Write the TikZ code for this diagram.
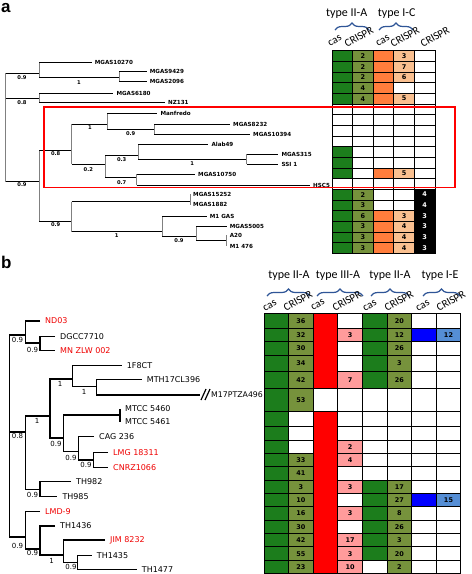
\documentclass[tikz,border=0pt]{standalone}
\usepackage{fontspec}
\setmainfont{Carlito}
\newfontfamily\dvf{DejaVu Sans}
\newfontfamily\lsf{Liberation Sans}
\usetikzlibrary{decorations.pathreplacing,calc}
\definecolor{cgreen}{RGB}{28,125,28}
\definecolor{colive}{RGB}{118,146,60}
\definecolor{corange}{RGB}{255,125,60}
\definecolor{cpeach}{RGB}{250,192,144}
\definecolor{cpink}{RGB}{255,155,155}
\definecolor{cblue}{RGB}{0,0,255}
\definecolor{clblue}{RGB}{85,142,213}
\definecolor{cbrace}{RGB}{47,85,151}
\definecolor{cred}{RGB}{255,0,0}
\definecolor{labred}{RGB}{240,0,0}
\tikzset{
 cellbase/.style={draw=black, line width=0.7pt, inner sep=0pt, font=\dvf\bfseries\fontsize{6.5}{7}\selectfont},
 cG/.style={fill=cgreen}, cW/.style={fill=white}, cO/.style={fill=corange},
 cR/.style={fill=cred}, cB/.style={fill=cblue}, cOl/.style={fill=colive},
 cPe/.style={fill=cpeach}, cBk/.style={fill=black,text=white},
 cPk/.style={fill=cpink}, cLb/.style={fill=clblue},
 branchA/.style={line width=0.9pt, draw=black},
 vA/.style={line width=0.9pt, draw=gray},
 leafA/.style={anchor=west, inner sep=0pt, font=\dvf\bfseries\fontsize{5.6}{6}\selectfont},
 supA/.style={inner sep=0pt, font=\dvf\bfseries\fontsize{5.2}{6}\selectfont},
 branchB/.style={line width=1.3pt, draw=black},
 leafB/.style={anchor=west, inner sep=0pt, font=\dvf\fontsize{8}{9}\selectfont},
 redleaf/.style={text=labred},
 blackleaf/.style={text=black},
 supB/.style={inner sep=0pt, font=\dvf\fontsize{7}{8}\selectfont},
 typelab/.style={inner sep=0pt, font=\fontsize{12}{13}\selectfont},
 collab/.style={anchor=base west, rotate=30, inner sep=0pt, font=\fontsize{11}{12}\selectfont},
 tbrace/.style={draw=cbrace, line width=1.2pt, decorate, decoration={brace, amplitude=7pt}},
 panlab/.style={anchor=base west, inner sep=0pt, font=\lsf\bfseries\fontsize{17}{17}\selectfont},
}
\newcommand{\ifemptyT}[3]{\if\relax\detokenize{#1}\relax #2\else #3\fi}
\newcommand{\acell}[4]{%
 \node[cellbase,#3,minimum width=20.6pt,minimum height=10.66pt] (a#1c#2) at ({332+(#2-0.5)*20.6},{50.7+(#1-0.5)*10.66}) {#4};}
\newcommand{\arow}[6]{%
 \acell{#1}{1}{#2}{}%
 \ifemptyT{#3}{\acell{#1}{2}{cW}{}}{\acell{#1}{2}{cOl}{#3}}%
 \acell{#1}{3}{#4}{}%
 \ifemptyT{#5}{\acell{#1}{4}{cW}{}}{\acell{#1}{4}{cPe}{#5}}%
 \ifemptyT{#6}{\acell{#1}{5}{cW}{}}{\acell{#1}{5}{cBk}{#6}}%
}
\def\bbA{{313.3,328.3,341.7,355,371,388.3,411.7,426,440,453.3,466.7,480,493.3,506.7,520,533.3,546.7,560.7,573.3}}
\newcommand{\bcell}[4]{%
 \node[cellbase,#3,minimum width=24.6pt,minimum height=\bh pt] (b#1c#2) at ({264+(#2-0.5)*24.6},{(\btop+\bbot)/2}) {#4};}
\newcommand{\brow}[9]{%
 \pgfmathsetmacro\btop{\bbA[#1-1]}\pgfmathsetmacro\bbot{\bbA[#1]}\pgfmathsetmacro\bh{\bbot-\btop}%
 \bcell{#1}{1}{#2}{}%
 \ifemptyT{#3}{\bcell{#1}{2}{cW}{}}{\bcell{#1}{2}{cOl}{#3}}%
 \bcell{#1}{3}{#4}{}%
 \ifemptyT{#5}{\bcell{#1}{4}{cW}{}}{\bcell{#1}{4}{cPk}{#5}}%
 \bcell{#1}{5}{#6}{}%
 \ifemptyT{#7}{\bcell{#1}{6}{cW}{}}{\bcell{#1}{6}{cOl}{#7}}%
 \bcell{#1}{7}{#8}{}%
 \ifemptyT{#9}{\bcell{#1}{8}{cW}{}}{\bcell{#1}{8}{cLb}{#9}}%
}
\newcommand{\leafA}[4]{\coordinate (#1) at (#2,#3); \node[leafA] (#1t) at (#2+3,#3) {#4};}
\newcommand{\leafB}[5]{\coordinate (#1) at (#2,#3); \node[leafB,#5] (#1t) at (#2+5,#3) {#4};}
\newcommand{\cladeA}[3]{%
 \draw[vA] (#1 |- #2) -- (#1 |- #3);
 \draw[branchA] (#1 |- #2) -- (#2);
 \draw[branchA] (#1 |- #3) -- (#3);}
\newcommand{\cladeB}[3]{%
 \draw[branchB] (#2) -- (#1 |- #2) -- (#1 |- #3) -- (#3);}
\begin{document}
\begin{tikzpicture}[x=1pt,y=-1pt]
\useasboundingbox (0,0) rectangle (472,574);
\fill[white] (0,0) rectangle (472,574);
\node[panlab] (pa) at (1,12) {a};
\node[panlab] (pb) at (1,268) {b};

% ---------- panel a table ----------
\arow{1}{cG}{2}{cO}{3}{}
\arow{2}{cG}{2}{cO}{7}{}
\arow{3}{cG}{2}{cO}{6}{}
\arow{4}{cG}{4}{cO}{}{}
\arow{5}{cG}{4}{cO}{5}{}
\arow{6}{cW}{}{cW}{}{}
\arow{7}{cW}{}{cW}{}{}
\arow{8}{cW}{}{cW}{}{}
\arow{9}{cW}{}{cW}{}{}
\arow{10}{cG}{}{cW}{}{}
\arow{11}{cG}{}{cW}{}{}
\arow{12}{cG}{}{cO}{5}{}
\arow{13}{cW}{}{cW}{}{}
\arow{14}{cG}{2}{cW}{}{4}
\arow{15}{cG}{3}{cW}{}{4}
\arow{16}{cG}{6}{cO}{3}{3}
\arow{17}{cG}{3}{cO}{4}{3}
\arow{18}{cG}{3}{cO}{4}{3}
\arow{19}{cG}{3}{cO}{4}{3}

\node[typelab] (ta1) at (346.7,14) {type II-A};
\node[typelab] (ta2) at (396.7,14) {type I-C};
\draw[tbrace] (335,30) -- (369,30);
\draw[tbrace] (379,30) -- (413,30);
\node[collab] (ha1) at (330,47) {cas};
\node[collab] (ha2) at (347,48) {CRISPR};
\node[collab] (ha3) at (378,47) {cas};
\node[collab] (ha4) at (393,48) {CRISPR};
\node[collab] (ha5) at (423,48) {CRISPR};

% ---------- panel a tree ----------
\coordinate (ra) at (5.7,127);
\coordinate (a1) at (39.3,73.3);
\coordinate (a1b) at (119.3,77.3);
\coordinate (a2) at (39.3,98.3);
\coordinate (a3) at (39.3,181.7);
\coordinate (a4) at (71.7,150);
\coordinate (a6) at (107.3,124);
\coordinate (a8) at (154.3,129.3);
\coordinate (a7) at (105.3,164.3);
\coordinate (a9) at (138.3,155);
\coordinate (a11) at (246.7,159.3);
\coordinate (a10) at (136.7,177.7);
\coordinate (a5) at (71.7,221.7);
\coordinate (a12) at (190,201.5);
\coordinate (a13) at (162.3,231.7);
\coordinate (a14) at (196,236.7);
\coordinate (a15) at (226.7,240.7);

\leafA{mgasA}{91.7}{62.3}{MGAS10270}
\leafA{mgasB}{146.7}{71.3}{MGAS9429}
\leafA{mgasC}{146.7}{81.5}{MGAS2096}
\leafA{mgasD}{113.3}{93}{MGAS6180}
\leafA{nzA}{165}{102.5}{NZ131}
\leafA{manf}{157.3}{113.5}{Manfredo}
\leafA{mgasE}{230}{124.3}{MGAS8232}
\leafA{mgasF}{250}{134.3}{MGAS10394}
\leafA{alab}{208.3}{144.3}{Alab49}
\leafA{mgasG}{278.3}{154}{MGAS315}
\leafA{ssi}{278.3}{164}{SSI 1}
\leafA{mgasH}{195}{174.3}{MGAS10750}
\leafA{hsc}{310}{185}{HSC5}
\leafA{mgasI}{190}{194.3}{MGAS15252}
\leafA{mgasJ}{190}{204.7}{MGAS1882}
\leafA{mgA}{206.7}{216.7}{M1 GAS}
\leafA{mgasK}{226.7}{226.7}{MGAS5005}
\leafA{aA}{226.7}{235.3}{A20}
\leafA{mgB}{226.7}{246}{M1 476}

\draw[vA] (ra |- a1) -- (ra |- a3);
\draw[branchA] (ra |- a1) -- (a1);
\draw[branchA] (ra |- a2) -- (a2);
\draw[branchA] (ra |- a3) -- (a3);
\cladeA{a1}{mgasA}{a1b}
\cladeA{a1b}{mgasB}{mgasC}
\cladeA{a2}{mgasD}{nzA}
\cladeA{a3}{a4}{a5}
\cladeA{a4}{a6}{a7}
\cladeA{a6}{manf}{a8}
\cladeA{a8}{mgasE}{mgasF}
\cladeA{a7}{a9}{a10}
\cladeA{a9}{alab}{a11}
\cladeA{a11}{mgasG}{ssi}
\cladeA{a10}{mgasH}{hsc}
\cladeA{a5}{a12}{a13}
\cladeA{a12}{mgasI}{mgasJ}
\cladeA{a13}{mgA}{a14}
\cladeA{a14}{mgasK}{a15}
\cladeA{a15}{aA}{mgB}

\node[supA] (sa1) at (22,77.5) {0.9};
\node[supA] (sa2) at (79,82.3) {1};
\node[supA] (sa3) at (22,102.3) {0.8};
\node[supA] (sa4) at (55.7,154) {0.8};
\node[supA] (sa5) at (90,128) {1};
\node[supA] (sa6) at (130.7,133.7) {0.9};
\node[supA] (sa7) at (88.3,169.3) {0.2};
\node[supA] (sa8) at (121.7,159.3) {0.3};
\node[supA] (sa9) at (192.3,164) {1};
\node[supA] (sa10) at (121.7,182.7) {0.7};
\node[supA] (sa11) at (22,185) {0.9};
\node[supA] (sa12) at (55.7,225) {0.9};
\node[supA] (sa13) at (116.7,236) {1};
\node[supA] (sa14) at (179,241) {0.9};

\draw[red, line width=1.8pt] (43.7,107.3) rectangle (455,187.5);

% ---------- panel b table ----------
\brow{1}{cG}{36}{cR}{}{cG}{20}{cW}{}
\brow{2}{cG}{32}{cR}{3}{cG}{12}{cB}{12}
\brow{3}{cG}{30}{cR}{}{cG}{26}{cW}{}
\brow{4}{cG}{34}{cR}{}{cG}{3}{cW}{}
\brow{5}{cG}{42}{cR}{7}{cG}{26}{cW}{}
\brow{6}{cG}{53}{cW}{}{cW}{}{cW}{}
\brow{7}{cG}{}{cR}{}{cW}{}{cW}{}
\brow{8}{cG}{}{cR}{}{cW}{}{cW}{}
\brow{9}{cG}{}{cR}{2}{cW}{}{cW}{}
\brow{10}{cG}{33}{cR}{4}{cW}{}{cW}{}
\brow{11}{cG}{41}{cR}{}{cW}{}{cW}{}
\brow{12}{cG}{3}{cR}{3}{cG}{17}{cW}{}
\brow{13}{cG}{10}{cR}{}{cG}{27}{cB}{15}
\brow{14}{cG}{16}{cR}{3}{cG}{8}{cW}{}
\brow{15}{cG}{30}{cR}{}{cG}{26}{cW}{}
\brow{16}{cG}{42}{cR}{17}{cG}{3}{cW}{}
\brow{17}{cG}{55}{cR}{3}{cG}{20}{cW}{}
\brow{18}{cG}{23}{cR}{10}{cW}{2}{cW}{}
\fill[cred] (313.6,313.7) rectangle (337.4,387.9);
\fill[cred] (313.6,412.1) rectangle (337.4,572.9);

\node[typelab] (tb1) at (289,276) {type II-A};
\node[typelab] (tb2) at (338,276) {type III-A};
\node[typelab] (tb3) at (390,276) {type II-A};
\node[typelab] (tb4) at (440,276) {type I-E};
\draw[tbrace] (267,296) -- (310,296);
\draw[tbrace] (317,296) -- (363,296);
\draw[tbrace] (371,296) -- (409,296);
\draw[tbrace] (423,296) -- (460,296);
\node[collab] (hb1) at (265,312) {cas};
\node[collab] (hb2) at (286,312) {CRISPR};
\node[collab] (hb3) at (313,311) {cas};
\node[collab] (hb4) at (335,312) {CRISPR};
\node[collab] (hb5) at (365,312) {cas};
\node[collab] (hb6) at (387,312) {CRISPR};
\node[collab] (hb7) at (418,312) {cas};
\node[collab] (hb8) at (439,312) {CRISPR};

% ---------- panel b tree ----------
\coordinate (rb) at (9.3,430);
\coordinate (d1) at (25.7,335);
\coordinate (d2) at (40,343);
\coordinate (d3) at (25.7,432);
\coordinate (d4) at (50,416);
\coordinate (d5) at (40,489.3);
\coordinate (d6) at (72.7,379);
\coordinate (d7) at (63.3,438);
\coordinate (d8) at (96.7,386.7);
\coordinate (d9) at (120,415);
\coordinate (d10) at (78.3,451.7);
\coordinate (d11) at (93.3,460);
\coordinate (d12) at (25.7,537);
\coordinate (d13) at (40,549);
\coordinate (d14) at (63.3,555);
\coordinate (d15) at (77.3,562.7);

\leafB{nd}{40}{321}{ND03}{redleaf}
\leafB{dgcc}{55}{336.7}{DGCC7710}{blackleaf}
\leafB{mnz}{55}{350.3}{MN ZLW 002}{redleaf}
\leafB{ff}{121.7}{365.7}{1F8CT}{blackleaf}
\leafB{mth}{141.7}{379.3}{MTH17CL396}{blackleaf}
\coordinate (mptz) at (200,395);
\node[leafB,font=\dvf\fontsize{7.8}{9}\selectfont] (mptzt) at (211,395) {M17PTZA496};
\leafB{mtA}{120}{409}{MTCC 5460}{blackleaf}
\leafB{mtB}{120}{422}{MTCC 5461}{blackleaf}
\leafB{cag}{94}{436.7}{CAG 236}{blackleaf}
\leafB{lmg}{108}{452.7}{LMG 18311}{redleaf}
\leafB{cnrz}{108}{467.7}{CNRZ1066}{redleaf}
\leafB{thA}{71}{481.7}{TH982}{blackleaf}
\leafB{thB}{57.3}{496.7}{TH985}{blackleaf}
\leafB{lmd}{40}{511.7}{LMD-9}{redleaf}
\leafB{thC}{55}{526}{TH1436}{blackleaf}
\leafB{jim}{105}{540}{JIM 8232}{redleaf}
\leafB{thD}{91.7}{555.3}{TH1435}{blackleaf}
\leafB{thE}{136.7}{569.3}{TH1477}{blackleaf}

\draw[branchB] (rb |- d1) -- (rb |- d12);
\draw[branchB] (rb |- d1) -- (d1);
\draw[branchB] (rb |- d3) -- (d3);
\draw[branchB] (rb |- d12) -- (d12);
\cladeB{d1}{nd}{d2}
\cladeB{d2}{dgcc}{mnz}
\cladeB{d3}{d4}{d5}
\cladeB{d4}{d6}{d7}
\cladeB{d6}{ff}{d8}
\cladeB{d8}{mth}{mptz}
\cladeB{d7}{d9}{d10}
\cladeB{d9}{mtA}{mtB}
\cladeB{d10}{cag}{d11}
\cladeB{d11}{lmg}{cnrz}
\cladeB{d5}{thA}{thB}
\cladeB{d12}{lmd}{d13}
\cladeB{d13}{thC}{d14}
\cladeB{d14}{jim}{d15}
\cladeB{d15}{thD}{thE}
\draw[line width=1.2pt] ($(mptz)+(1,5)$) -- ($(mptz)+(6,-6)$);
\draw[line width=1.2pt] ($(mptz)+(5,5)$) -- ($(mptz)+(10,-6)$);

\node[supB] (sb1) at (17.5,340) {0.9};
\node[supB] (sb2) at (32.5,349.5) {0.9};
\node[supB] (sb3) at (60,384) {1};
\node[supB] (sb4) at (84,392) {1};
\node[supB] (sb5) at (37,421) {1};
\node[supB] (sb6) at (17.5,436) {0.8};
\node[supB] (sb7) at (56,443.5) {0.9};
\node[supB] (sb8) at (71,457.5) {0.9};
\node[supB] (sb9) at (86,465) {0.9};
\node[supB] (sb10) at (32.5,494.5) {0.9};
\node[supB] (sb11) at (17.5,545.7) {0.9};
\node[supB] (sb12) at (32.5,553) {0.9};
\node[supB] (sb13) at (51.7,560.5) {1};
\node[supB] (sb14) at (71,567) {0.9};
\end{tikzpicture}
\end{document}
